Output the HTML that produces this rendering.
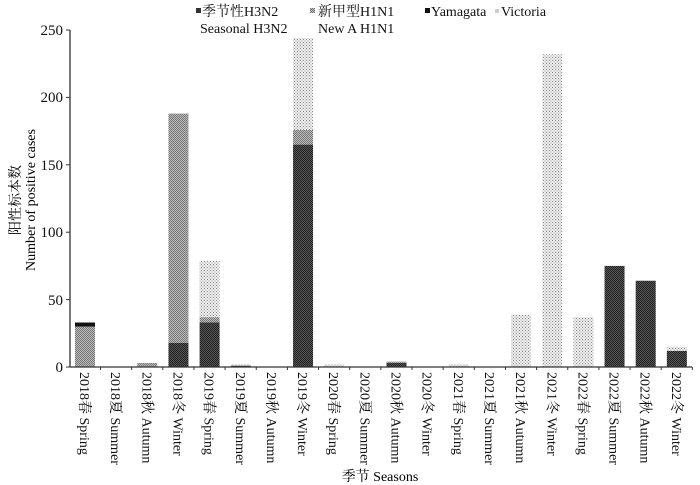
<!DOCTYPE html>
<html><head><meta charset="utf-8"><style>
body{margin:0;background:#fff}
svg{display:block;font-family:"Liberation Serif","Noto Serif CJK SC","Noto Sans CJK SC",serif}
</style></head><body>
<svg width="700" height="485" viewBox="0 0 700 485" xmlns="http://www.w3.org/2000/svg">
<defs>
<pattern id="pA" width="2" height="2" patternUnits="userSpaceOnUse"><rect width="2" height="2" fill="#555"/><rect width="1" height="1" fill="#222"/><rect x="1" y="1" width="1" height="1" fill="#222"/></pattern>
<pattern id="pB" width="2" height="2" patternUnits="userSpaceOnUse"><rect width="2" height="2" fill="#bbb"/><rect width="1" height="1" fill="#777"/><rect x="1" y="1" width="1" height="1" fill="#777"/></pattern>
<pattern id="pD" width="3" height="3" patternUnits="userSpaceOnUse"><rect width="3" height="3" fill="#eee"/><rect width="1" height="1" fill="#888"/><rect x="1.5" y="1.5" width="1" height="1" fill="#999"/></pattern>
</defs>
<g id="bars"></g>
<!-- axes -->
<line x1="70" y1="30" x2="70" y2="367" stroke="#333" stroke-width="1.3"/>
<line x1="70" y1="367" x2="692" y2="367" stroke="#333" stroke-width="1.3"/>
<g font-size="15" text-anchor="end" fill="#111">
<text x="63" y="372">0</text><text x="63" y="305">50</text><text x="63" y="237">100</text><text x="63" y="170">150</text><text x="63" y="102">200</text><text x="63" y="35">250</text>
</g>
<g stroke="#333"><line x1="66" y1="367" x2="70" y2="367"/><line x1="66" y1="299.6" x2="70" y2="299.6"/><line x1="66" y1="232.2" x2="70" y2="232.2"/><line x1="66" y1="164.8" x2="70" y2="164.8"/><line x1="66" y1="97.4" x2="70" y2="97.4"/><line x1="66" y1="30" x2="70" y2="30"/></g>
<text transform="translate(20,200) rotate(-90)" text-anchor="middle" font-size="14">阳性标本数</text>
<text transform="translate(35,200) rotate(-90)" text-anchor="middle" font-size="14">Number of positive cases</text>
<text x="380" y="481" text-anchor="middle" font-size="14">季节 Seasons</text>
<!-- legend -->
<g font-size="14" fill="#111">
<rect x="196" y="8" width="5" height="5" fill="#333"/><text x="202" y="16">季节性H3N2</text><text x="200" y="33">Seasonal H3N2</text>
<rect x="310" y="8" width="5" height="5" fill="url(#pB)"/><text x="318" y="16">新甲型H1N1</text><text x="318" y="33">New A H1N1</text>
<rect x="425" y="8" width="5" height="5" fill="#111"/><text x="431" y="16">Yamagata</text>
<rect x="495" y="9" width="4" height="4" fill="#ccc"/><text x="501" y="16">Victoria</text>
</g>
<g id="labels" font-size="14" fill="#111"></g>
<script>
var ns="http://www.w3.org/2000/svg";
var d=[[0,30,3,0],[0,0,0,0],[0,3,0,0],[18,170,0,0],[33,4,0,42],[1,0,0,1],[0,0,0,0],[165,11,0,68],[0,0,0,2],[0,0,0,0],[3,1,0,0],[0,0,0,0],[0,0,0,2],[0,0,0,0],[0,0,0,39],[0,0,0,232],[0,0,0,37],[75,0,0,0],[64,0,0,0],[12,0,0,3]];
var f=["url(#pA)","url(#pB)","#111","url(#pD)"];
var L=["2018春 Spring","2018夏 Summer","2018秋 Autumn","2018冬 Winter","2019春 Spring","2019夏 Summer","2019秋 Autumn","2019冬 Winter","2020春 Spring","2020夏 Summer","2020秋 Autumn","2020冬 Winter","2021春 Spring","2021夏 Summer","2021秋 Autumn","2021冬 Winter","2022春 Spring","2022夏 Summer","2022秋 Autumn","2022冬 Winter"];
var g=document.getElementById("bars"),gl=document.getElementById("labels"),k=1.348;
for(var i=0;i<20;i++){var c=85+31.15*i,b=367;
for(var j=0;j<4;j++){var v=d[i][j];if(!v)continue;var h=v*k;var r=document.createElementNS(ns,"rect");
r.setAttribute("x",c-10);r.setAttribute("y",b-h);r.setAttribute("width",20);r.setAttribute("height",h);r.setAttribute("fill",f[j]);g.appendChild(r);b-=h;}
var t=document.createElementNS(ns,"line");var tx=c+15.5;t.setAttribute("x1",tx);t.setAttribute("x2",tx);t.setAttribute("y1",367);t.setAttribute("y2",370);t.setAttribute("stroke","#333");g.appendChild(t);
var tt=document.createElementNS(ns,"text");tt.setAttribute("transform","translate("+(c-5)+",372) rotate(90)");tt.textContent=L[i];gl.appendChild(tt);}
</script>
</svg>
</body></html>
